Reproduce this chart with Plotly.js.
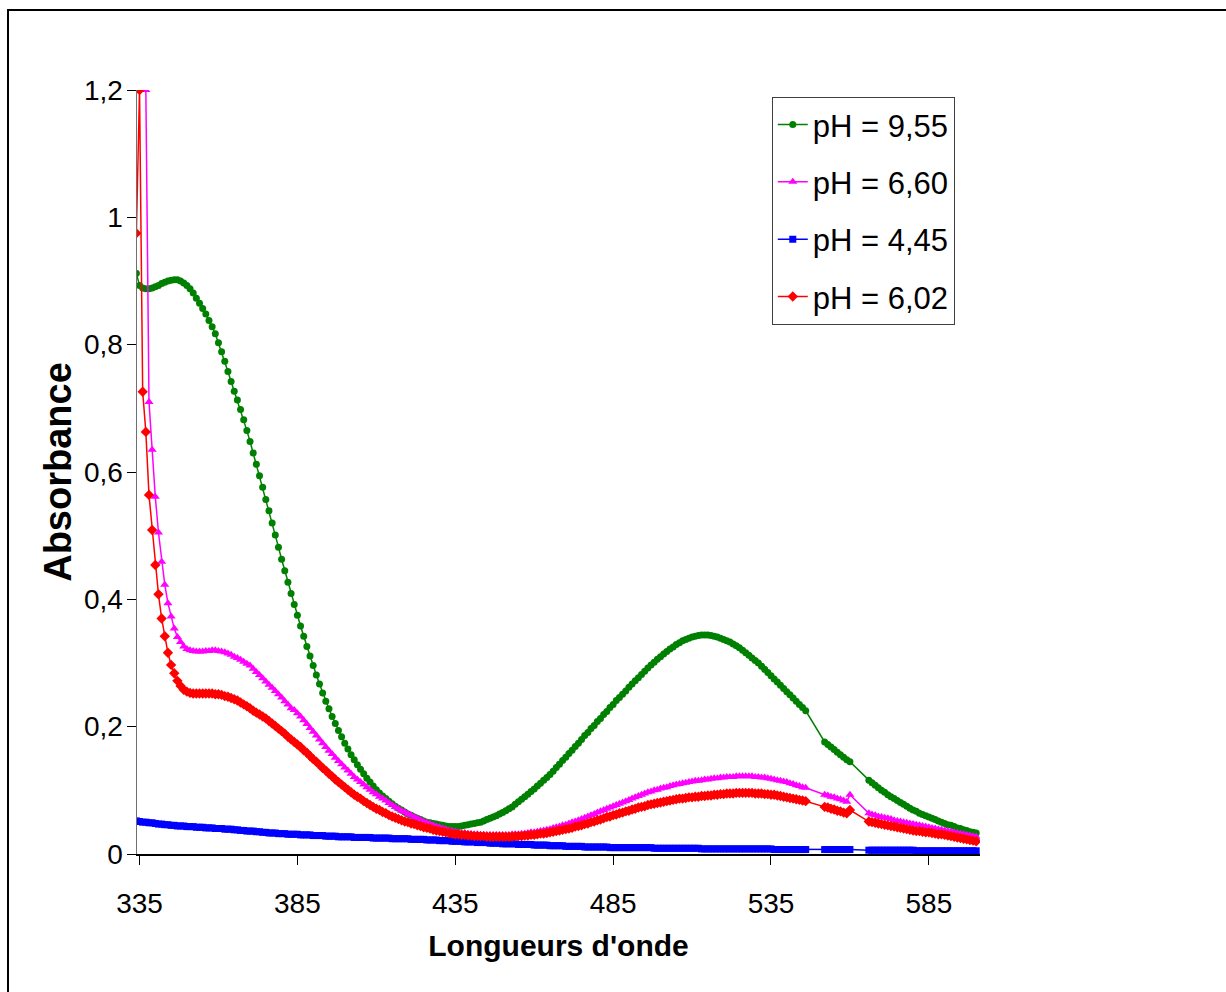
<!DOCTYPE html>
<html>
<head>
<meta charset="utf-8">
<script src="https://cdn.plot.ly/plotly-3.0.1.min.js"></script>
<style>
  html, body { margin: 0; padding: 0; background: #fff; }
  #chart { width: 1226px; height: 992px; }
</style>
</head>
<body>
<div id="chart"></div>
<script>
// Wavelength scan (nm), with two missing ranges in the recording
const wavelengthSegments = [[334, 546], [552, 560], [566, 600]];

const seriesNames = ["pH = 9,55", "pH = 6,60", "pH = 4,45", "pH = 6,02"];

const absPH955 = [
  0.912,0.893,0.889,0.888,0.888,0.889,0.891,0.893,0.896,0.898,
  0.900,0.901,0.902,0.902,0.900,0.897,0.893,0.888,0.881,0.873,
  0.865,0.857,0.848,0.838,0.828,0.817,0.803,0.789,0.774,0.758,
  0.742,0.727,0.713,0.698,0.682,0.665,0.648,0.630,0.612,0.594,
  0.576,0.557,0.539,0.520,0.501,0.482,0.463,0.445,0.427,0.409,
  0.392,0.375,0.358,0.342,0.326,0.311,0.296,0.281,0.267,0.253,
  0.240,0.228,0.216,0.205,0.194,0.184,0.174,0.165,0.156,0.148,
  0.140,0.133,0.126,0.119,0.113,0.107,0.101,0.096,0.091,0.087,
  0.083,0.079,0.075,0.072,0.069,0.066,0.063,0.061,0.058,0.056,
  0.054,0.052,0.050,0.049,0.048,0.047,0.046,0.045,0.044,0.043,
  0.043,0.043,0.043,0.044,0.045,0.046,0.047,0.048,0.049,0.050,
  0.052,0.054,0.056,0.058,0.060,0.063,0.065,0.068,0.071,0.074,
  0.078,0.082,0.086,0.090,0.094,0.098,0.102,0.107,0.111,0.116,
  0.120,0.125,0.130,0.136,0.141,0.147,0.152,0.158,0.163,0.169,
  0.174,0.180,0.186,0.191,0.197,0.202,0.208,0.213,0.219,0.224,
  0.230,0.235,0.241,0.246,0.251,0.256,0.262,0.267,0.272,0.277,
  0.282,0.287,0.292,0.297,0.301,0.306,0.310,0.314,0.318,0.322,
  0.325,0.329,0.332,0.335,0.337,0.339,0.341,0.342,0.343,0.344,
  0.344,0.344,0.343,0.342,0.341,0.339,0.337,0.335,0.333,0.330,
  0.327,0.324,0.320,0.316,0.312,0.308,0.304,0.300,0.295,0.290,
  0.285,0.280,0.275,0.270,0.265,0.260,0.255,0.250,0.245,0.240,
  0.235,0.230,0.225,
  0.176,0.172,0.168,0.164,0.160,0.156,0.152,0.148,0.145,
  0.116,0.112,0.108,0.104,0.100,0.097,0.093,0.090,0.087,0.084,
  0.081,0.078,0.075,0.072,0.069,0.067,0.064,0.062,0.060,0.058,
  0.056,0.054,0.052,0.050,0.048,0.046,0.045,0.043,0.041,0.040,
  0.038,0.037,0.035,0.034,0.033
];

const absPH660 = [
  1.2,1.2,1.2,1.2,0.710,0.635,0.561,0.505,0.459,0.423,
  0.394,0.373,0.354,0.341,0.333,0.326,0.322,0.320,0.319,0.318,
  0.318,0.318,0.319,0.319,0.320,0.320,0.319,0.318,0.317,0.315,
  0.313,0.310,0.308,0.305,0.302,0.299,0.296,0.291,0.286,0.281,
  0.276,0.271,0.266,0.261,0.256,0.251,0.246,0.240,0.235,0.229,
  0.226,0.221,0.216,0.210,0.204,0.198,0.192,0.186,0.180,0.174,
  0.168,0.162,0.157,0.151,0.146,0.141,0.136,0.131,0.126,0.121,
  0.117,0.113,0.109,0.105,0.101,0.097,0.094,0.090,0.087,0.084,
  0.080,0.077,0.074,0.071,0.068,0.066,0.063,0.061,0.058,0.056,
  0.053,0.051,0.049,0.047,0.045,0.043,0.042,0.040,0.039,0.037,
  0.036,0.035,0.034,0.033,0.033,0.032,0.031,0.031,0.031,0.030,
  0.030,0.030,0.030,0.030,0.030,0.030,0.030,0.030,0.030,0.031,
  0.031,0.031,0.032,0.032,0.033,0.034,0.034,0.035,0.036,0.037,
  0.038,0.039,0.041,0.042,0.043,0.045,0.046,0.048,0.050,0.051,
  0.053,0.055,0.057,0.059,0.061,0.063,0.065,0.067,0.069,0.071,
  0.073,0.075,0.077,0.079,0.081,0.083,0.085,0.087,0.089,0.091,
  0.093,0.095,0.097,0.098,0.100,0.101,0.103,0.104,0.105,0.107,
  0.108,0.109,0.110,0.111,0.112,0.113,0.114,0.115,0.115,0.116,
  0.117,0.117,0.118,0.119,0.119,0.120,0.120,0.121,0.121,0.121,
  0.122,0.122,0.122,0.122,0.122,0.122,0.121,0.121,0.120,0.120,
  0.119,0.118,0.117,0.116,0.115,0.114,0.113,0.111,0.110,0.108,
  0.107,0.105,0.104,
  0.093,0.092,0.090,0.089,0.087,0.086,0.084,0.082,0.093,
  0.064,0.062,0.061,0.059,0.058,0.057,0.056,0.055,0.053,0.052,
  0.051,0.050,0.049,0.048,0.047,0.046,0.045,0.044,0.043,0.042,
  0.041,0.040,0.039,0.038,0.037,0.036,0.035,0.034,0.033,0.032,
  0.031,0.030,0.029,0.028,0.027
];

const absPH445 = [
  0.052,0.051,0.050,0.050,0.049,0.049,0.048,0.047,0.047,0.046,
  0.046,0.045,0.045,0.044,0.044,0.044,0.043,0.043,0.043,0.042,
  0.042,0.042,0.041,0.041,0.041,0.040,0.040,0.040,0.039,0.039,
  0.039,0.038,0.038,0.037,0.037,0.036,0.036,0.036,0.035,0.035,
  0.034,0.034,0.033,0.033,0.033,0.032,0.032,0.032,0.031,0.031,
  0.031,0.031,0.030,0.030,0.030,0.030,0.029,0.029,0.029,0.029,
  0.028,0.028,0.028,0.028,0.027,0.027,0.027,0.027,0.027,0.026,
  0.026,0.026,0.026,0.026,0.026,0.025,0.025,0.025,0.025,0.025,
  0.025,0.024,0.024,0.024,0.024,0.024,0.024,0.023,0.023,0.023,
  0.023,0.023,0.022,0.022,0.022,0.022,0.021,0.021,0.021,0.021,
  0.020,0.020,0.020,0.020,0.019,0.019,0.019,0.019,0.018,0.018,
  0.018,0.018,0.017,0.017,0.017,0.017,0.016,0.016,0.016,0.016,
  0.016,0.015,0.015,0.015,0.015,0.015,0.014,0.014,0.014,0.014,
  0.014,0.013,0.013,0.013,0.013,0.013,0.012,0.012,0.012,0.012,
  0.012,0.012,0.011,0.011,0.011,0.011,0.011,0.011,0.011,0.011,
  0.010,0.010,0.010,0.010,0.010,0.010,0.010,0.010,0.010,0.010,
  0.010,0.010,0.010,0.010,0.009,0.009,0.009,0.009,0.009,0.009,
  0.009,0.009,0.009,0.009,0.009,0.009,0.009,0.009,0.009,0.008,
  0.008,0.008,0.008,0.008,0.008,0.008,0.008,0.008,0.008,0.008,
  0.008,0.008,0.008,0.008,0.008,0.008,0.008,0.008,0.008,0.008,
  0.008,0.008,0.007,0.007,0.007,0.007,0.007,0.007,0.007,0.007,
  0.007,0.007,0.007,
  0.007,0.007,0.007,0.007,0.007,0.007,0.007,0.007,0.007,
  0.006,0.006,0.006,0.006,0.006,0.006,0.006,0.006,0.006,0.006,
  0.006,0.006,0.006,0.006,0.006,0.005,0.005,0.005,0.005,0.005,
  0.005,0.005,0.005,0.005,0.005,0.005,0.005,0.005,0.005,0.005,
  0.005,0.005,0.005,0.005,0.005
];

const absPH602 = [
  0.975,1.2,0.726,0.663,0.564,0.509,0.454,0.408,0.370,0.342,
  0.316,0.297,0.284,0.272,0.264,0.258,0.255,0.253,0.252,0.252,
  0.252,0.252,0.252,0.252,0.252,0.251,0.251,0.250,0.248,0.247,
  0.245,0.243,0.241,0.238,0.235,0.232,0.229,0.225,0.222,0.219,
  0.216,0.213,0.209,0.205,0.201,0.197,0.193,0.189,0.184,0.180,
  0.176,0.172,0.168,0.163,0.159,0.154,0.149,0.145,0.140,0.135,
  0.131,0.126,0.122,0.117,0.113,0.109,0.105,0.101,0.097,0.093,
  0.090,0.087,0.083,0.080,0.077,0.074,0.071,0.069,0.066,0.064,
  0.061,0.059,0.057,0.055,0.053,0.051,0.050,0.048,0.047,0.045,
  0.044,0.042,0.041,0.040,0.038,0.037,0.036,0.035,0.034,0.033,
  0.032,0.031,0.031,0.030,0.030,0.029,0.029,0.028,0.028,0.028,
  0.028,0.027,0.027,0.027,0.027,0.027,0.027,0.027,0.027,0.027,
  0.028,0.028,0.028,0.029,0.029,0.030,0.030,0.031,0.032,0.032,
  0.033,0.034,0.035,0.036,0.037,0.038,0.039,0.040,0.041,0.043,
  0.044,0.045,0.047,0.048,0.050,0.051,0.053,0.054,0.056,0.058,
  0.059,0.061,0.062,0.064,0.065,0.067,0.068,0.070,0.071,0.073,
  0.074,0.075,0.077,0.078,0.079,0.080,0.081,0.082,0.083,0.084,
  0.085,0.086,0.087,0.087,0.088,0.089,0.089,0.090,0.090,0.091,
  0.091,0.092,0.092,0.093,0.093,0.094,0.094,0.095,0.095,0.095,
  0.096,0.096,0.096,0.096,0.096,0.096,0.095,0.095,0.095,0.094,
  0.094,0.093,0.093,0.092,0.091,0.090,0.089,0.088,0.087,0.086,
  0.085,0.084,0.083,
  0.074,0.073,0.071,0.070,0.068,0.067,0.065,0.064,0.069,
  0.051,0.050,0.049,0.048,0.047,0.046,0.045,0.044,0.043,0.042,
  0.041,0.040,0.039,0.038,0.037,0.036,0.036,0.035,0.034,0.034,
  0.033,0.032,0.031,0.031,0.030,0.029,0.028,0.027,0.026,0.025,
  0.024,0.023,0.022,0.021,0.020
];

const xTickVals = [335, 385, 435, 485, 535, 585];
const yTickVals = [0, 0.2, 0.4, 0.6, 0.8, 1, 1.2];

// build the wavelength list from the recorded segments
const wavelengths = [];
wavelengthSegments.forEach(([a, b]) => { for (let w = a; w <= b; w++) wavelengths.push(w); });

const FONT = "Liberation Sans, Arial, Helvetica, sans-serif";

const styles = [
  {color: "#008000", symbol: "circle", size: 7},
  {color: "#FF00FF", symbol: "triangle-up", size: 8},
  {color: "#0000FF", symbol: "square", size: 7},
  {color: "#FF0000", symbol: "diamond", size: 8}
];
const values = [absPH955, absPH660, absPH445, absPH602];

const traces = values.map((v, i) => ({
  type: "scatter",
  mode: "lines+markers",
  x: wavelengths,
  y: v,
  name: seriesNames[i],
  legendgroup: "g" + i,
  line: {color: styles[i].color, width: 1.5},
  marker: {color: styles[i].color, symbol: styles[i].symbol, size: styles[i].size, line: {width: 0}}
}));

const layout = {
  width: 1226,
  height: 992,
  margin: {l: 137, r: 246, t: 90, b: 138},
  paper_bgcolor: "#ffffff",
  plot_bgcolor: "#ffffff",
  separators: ", ",
  font: {family: FONT, color: "#000000", size: 28},
  showlegend: true,
  legend: {
    x: 0.753, y: 0.991, xanchor: "left", yanchor: "top",
    bgcolor: "#ffffff", bordercolor: "#404040", borderwidth: 1,
    font: {family: FONT, size: 31, color: "#000000"},
    traceorder: "grouped", tracegroupgap: 14, itemwidth: 30
  },
  xaxis: {
    range: [334.2, 601.2],
    tickvals: xTickVals,
    ticktext: xTickVals.map(String),
    ticks: "outside", ticklen: 9, tickwidth: 1, tickcolor: "#000000",
    showline: true, linecolor: "#000000", linewidth: 1.5,
    showgrid: false, zeroline: false,
    tickfont: {family: FONT, size: 28, color: "#000000"},
    ticklabelstandoff: 15,
    title: {text: "Longueurs d'onde", font: {family: FONT, size: 30, color: "#000000", weight: "bold"}, standoff: 17}
  },
  yaxis: {
    range: [0, 1.2],
    tickvals: yTickVals,
    ticks: "outside", ticklen: 9, tickwidth: 1, tickcolor: "#000000",
    showline: true, linecolor: "#707070", linewidth: 1.5,
    showgrid: false, zeroline: false,
    tickfont: {family: FONT, size: 28, color: "#000000"},
    ticklabelstandoff: -2,
    title: {text: "Absorbance", font: {family: FONT, size: 38, color: "#000000", weight: "bold"}, standoff: 0}
  },
  shapes: [{
    type: "rect", xref: "paper", yref: "paper",
    x0: (8 - 137) / 843, x1: 1.6, y0: -0.5, y1: (854 - 10) / 764,
    line: {color: "#000000", width: 2}, fillcolor: "rgba(0,0,0,0)", layer: "below"
  }]
};

Plotly.newPlot("chart", traces, layout, {displayModeBar: false, staticPlot: true});
</script>
</body>
</html>
